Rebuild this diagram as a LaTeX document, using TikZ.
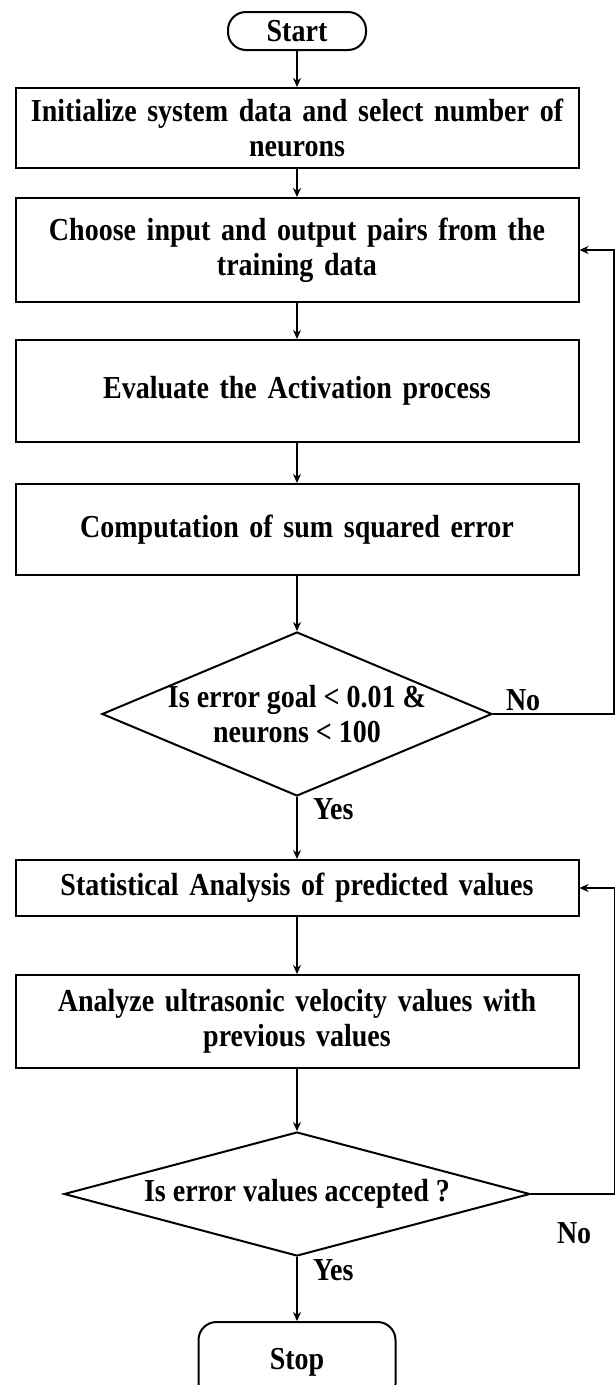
\documentclass[tikz,border=0pt]{standalone}
\usepackage{fontspec}
\setmainfont{Liberation Serif}[FakeStretch=0.875]
\usetikzlibrary{positioning,shapes.geometric,arrows.meta}

\begin{document}
\begin{tikzpicture}[x=1pt, y=1pt, line width=2pt, >={Stealth[length=9pt,width=8pt]},
        every node/.style={font=\fontsize{32}{35}\selectfont\bfseries},
        boxnode/.style={rectangle, draw, line width=2pt, text width=551pt, inner sep=6pt, align=center},
        endnode/.style={rectangle, draw, line width=2pt, rounded corners=18pt, inner sep=0pt},
        decisionnode/.style={diamond, draw, line width=2pt, inner sep=-6pt, align=center},
        labelnode/.style={inner sep=0pt}]

        \useasboundingbox (0,0) rectangle (615,-1385);
        \clip (0,0) rectangle (615,-1385);

        \node[endnode, minimum width=138pt, minimum height=38pt] (1) at (297,-31) {Start};
        \node[boxnode, minimum height=80pt] (2) [below=36pt of 1] {Initialize system data and select number of\\ neurons};
        \node[boxnode, minimum height=104pt] (3) [below=28pt of 2] {Choose input and output pairs from the\\ training data};
        \node[boxnode, minimum height=102pt] (4) [below=36pt of 3] {Evaluate the Activation process};
        \node[boxnode, minimum height=91pt] (5) [below=40pt of 4] {Computation of sum squared error};
        \node[decisionnode, minimum width=390pt, minimum height=164pt, aspect=2.38] (6) [below=55pt of 5] {Is error goal < 0.01 \&\\ neurons < 100};
        \node[boxnode, minimum height=56pt] (7) [below=62pt of 6] {Statistical Analysis of predicted values};
        \node[boxnode, minimum height=93pt] (8) [below=57pt of 7] {Analyze ultrasonic velocity values with\\ previous values};
        \node[decisionnode, minimum width=466pt, minimum height=124pt, aspect=3.76] (9) [below=62pt of 8] {Is error values accepted ?};
        \node[endnode, minimum width=197pt, minimum height=80pt] (10) [below=64pt of 9] {Stop};

        \node[labelnode] (11) [above right=2pt and 12pt of 6.east] {No};
        \node[labelnode] (12) [below right=1pt and 15pt of 6.south] {Yes};
        \node[labelnode] (13) [below right=28pt and 25pt of 9.east] {No};
        \node[labelnode] (14) [below right=2pt and 15pt of 9.south] {Yes};

        \draw[->] (1) -- (2);
        \draw[->] (2) -- (3);
        \draw[->] (3) -- (4);
        \draw[->] (4) -- (5);
        \draw[->] (5) -- (6);
        \draw[->] (6) -- (7);
        \draw[->] (7) -- (8);
        \draw[->] (8) -- (9);
        \draw[->] (9) -- (10);
        \draw[->] (6.east) -- ++(121,0) |- (3.east);
        \draw[->] (9.east) -- ++(84,0) |- (7.east);

        \end{tikzpicture}
\end{document}
